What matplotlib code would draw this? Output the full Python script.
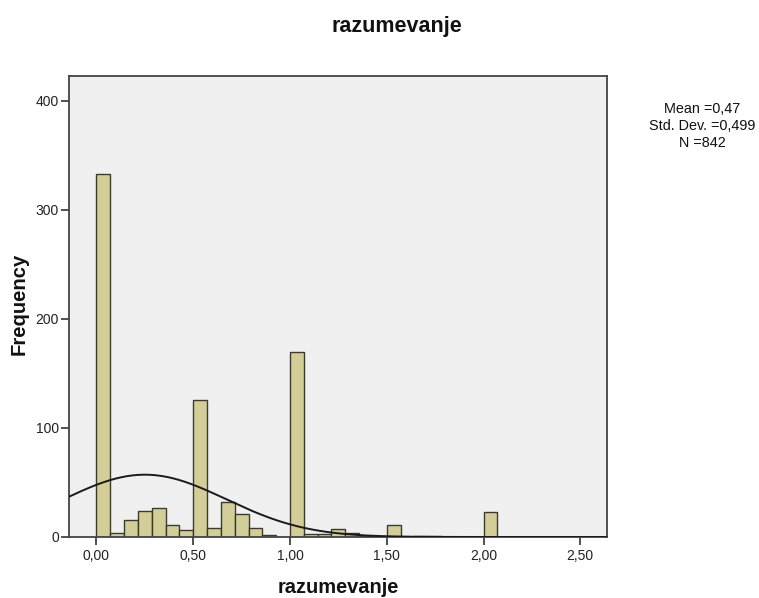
import numpy as np
import matplotlib
matplotlib.use("Agg")
import matplotlib.pyplot as plt

plt.rcParams['font.family'] = ['Liberation Sans', 'DejaVu Sans']

# histogram of razumevanje, bins of width 1/14 starting at 0
bin_width = 1 / 14
counts = [333, 4, 16, 24, 27, 11, 6, 126, 8, 32, 21, 8, 2, 0,
          170, 3, 3, 7, 4, 1, 0, 11, 0, 1, 1, 0, 0, 0, 23]
bin_starts = np.arange(len(counts)) * bin_width

# normal curve overlay
curve_mean = 0.25
curve_sd = 0.42
n_total = 842

stats_lines = ["Mean =0,47", "Std. Dev. =0,499", "N =842"]
x_ticks = [0.0, 0.5, 1.0, 1.5, 2.0, 2.5]
y_ticks = [0, 100, 200, 300, 400]

W, H = 759, 598
fig = plt.figure(figsize=(W / 100, H / 100), dpi=100)
ax = fig.add_axes([69 / W, 61 / H, 538 / W, 461 / H])
ax.set_facecolor('#f0f0f0')

ax.bar(bin_starts, counts, width=bin_width, align='edge',
       color='#d3ce97', edgecolor='#3a3a30', linewidth=1.0, zorder=2)

xs = np.linspace(-0.2, 2.7, 400)
ys = n_total * bin_width / (curve_sd * np.sqrt(2 * np.pi)) * np.exp(-0.5 * ((xs - curve_mean) / curve_sd) ** 2)
ax.plot(xs, ys, color='#1a1a1a', linewidth=1.4, zorder=3)

ax.set_xlim(-0.142, 2.638)
ax.set_ylim(0, 422.6)
ax.set_xticks(x_ticks)
ax.set_xticklabels([f"{t:.2f}".replace('.', ',') for t in x_ticks])
ax.set_yticks(y_ticks)
ax.tick_params(axis='both', direction='out', length=5.8, width=1.2,
               color='#333333', labelsize=10, labelcolor='#222222')
ax.tick_params(axis='x', pad=3)
ax.tick_params(axis='y', pad=1.5)

for sp in ax.spines.values():
    sp.set_color('#444444')
    sp.set_linewidth(1.3)

# axis titles and chart title
fig.text(338 / W, 1 - 593 / H, "razumevanje", ha='center', va='baseline',
         fontsize=14.4, fontweight='bold', color='#111111')
fig.text(19 / W, 1 - 304 / H, "Frequency", ha='center', va='center', rotation=90,
         fontsize=14.6, fontweight='bold', color='#111111')
fig.text(397 / W, 1 - 32 / H, "razumevanje", ha='center', va='baseline',
         fontsize=15.5, fontweight='bold', color='#111111')

fig.text(702 / W, 1 - 126 / H, "\n".join(stats_lines), ha='center', va='center',
         fontsize=10.4, linespacing=1.3, color='#111111')

fig.savefig("out.png", dpi=100)
